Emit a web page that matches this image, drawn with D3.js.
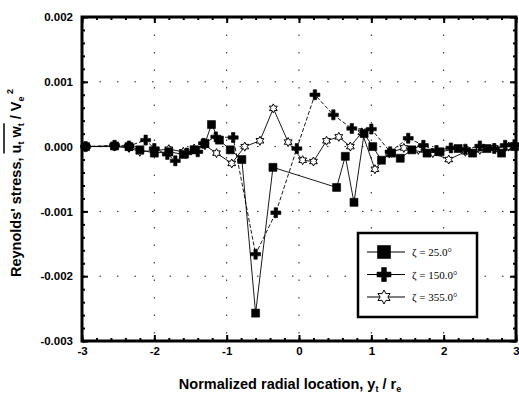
<!DOCTYPE html>
<html>
<head>
<meta charset="utf-8">
<script src="https://cdn.jsdelivr.net/npm/d3@7"></script>
<style>
  body { margin: 0; background: #fff; }
  svg { display: block; }
  .tick text { font-family: "Liberation Sans", Arial, sans-serif; font-weight: bold; font-size: 11.5px; fill: #000; }
</style>
</head>
<body>
<div id="chart"></div>
<script>
// tick labels
const xTicks = [-3, -2, -1, 0, 1, 2, 3]
const yTicks = [0.002, 0.001, 0, -0.001, -0.002, -0.003]
const yTickLabels = ['0.002', '0.001', '0.000', '-0.001', '-0.002', '-0.003']

// zeta = 25.0 deg (filled squares)
const x25 = [-2.95, -2.55, -2.35, -2.2, -2.0, -1.8, -1.6, -1.45, -1.3, -1.21, -1.1, -0.95, -0.79, -0.6, -0.36,
  0.52, 0.64, 0.76, 0.9, 1.02, 1.14, 1.28, 1.4, 1.56, 1.77, 1.95, 2.2, 2.4, 2.6, 2.8, 2.98]
const v25 = [0, 0.00001, 0, -0.00005, -0.0001, -0.00008, -0.00012, -0.00005, 0.00005, 0.00034, 0.0001, -0.00005, -0.0002, -0.00257, -0.00032,
  -0.00063, -0.00015, -0.00086, 0.0002, 0, -0.00021, -0.0001, -0.00018, -0.00005, -0.0001, -0.00008, -0.00003, -0.0001, -0.00003, -0.0001, 0]

// zeta = 150.0 deg (filled crosses)
const x150 = [-2.95, -2.55, -2.35, -2.12, -2.0, -1.82, -1.71, -1.55, -1.4, -1.32, -1.15, -0.91, -0.6, -0.32, -0.03,
  0.22, 0.475, 0.73, 1.0, 1.26, 1.51, 1.72, 1.9, 2.1, 2.3, 2.5, 2.7, 2.85, 2.98]
const v150 = [0, 0.00002, 0.00001, 0.0001, -0.00003, -0.00012, -0.00022, -0.0001, -0.00008, 0.00005, 0.00015, 0.00014, -0.00166, -0.00102, -0.00003,
  0.0008, 0.00049, 0.00028, 0.00027, -0.00008, 0.00013, 0.00002, -0.00006, -0.00002, -0.00004, 0.00001, -0.00003, 0.00002, 0.00003]

// zeta = 355.0 deg (open stars)
const x355 = [-2.95, -2.55, -2.35, -2.2, -2.0, -1.8, -1.6, -1.45, -1.3, -1.14, -0.93, -0.75, -0.54, -0.355, -0.15,
  0.05, 0.2, 0.38, 0.55, 0.71, 0.87, 1.05, 1.25, 1.45, 1.65, 1.85, 2.07, 2.3, 2.5, 2.7, 2.9]
const v355 = [0, 0, -0.00002, -0.00008, -0.00006, -0.00004, -0.00008, -0.00003, 0.00002, -0.0001, -0.00026, 0, 0.00009, 0.00059, 0.00007,
  -0.00021, -0.00023, 0.00009, 0.00015, 0, 0.00022, -0.00035, -0.0001, -0.00002, -0.00005, -0.0001, -0.0002, -0.00008, -0.00005, -0.00002, 0]

const seriesNames = ['\u03B6 = 25.0\u00B0', '\u03B6 = 150.0\u00B0', '\u03B6 = 355.0\u00B0']

const width = 519
const height = 402
const margin = { top: 17, right: 3, bottom: 61, left: 82 }

const x = d3.scaleLinear().domain([-3, 3]).range([margin.left, width - margin.right])
const y = d3.scaleLinear().domain([-0.003, 0.002]).range([height - margin.bottom, margin.top])

const series = [
  { name: seriesNames[2], xs: x355, vs: v355, marker: 'star', dash: null },
  { name: seriesNames[1], xs: x150, vs: v150, marker: 'cross', dash: '4,2' },
  { name: seriesNames[0], xs: x25, vs: v25, marker: 'square', dash: null },
]

// marker paths centred on 0,0
function markerPath(type, s) {
  if (type === 'square') {
    return `M${-s / 2},${-s / 2}h${s}v${s}h${-s}Z`
  }
  if (type === 'cross') {
    const a = s / 2, t = s * 0.17
    return `M${-t},${-a}H${t}V${-t}H${a}V${t}H${t}V${a}H${-t}V${t}H${-a}V${-t}H${-t}Z`
  }
  // six point star
  const pts = []
  for (let i = 0; i < 12; i++) {
    const r = i % 2 === 0 ? s / 2 : s / 3.6
    const ang = -Math.PI / 2 + i * Math.PI / 6
    pts.push([r * Math.cos(ang), r * Math.sin(ang)])
  }
  return 'M' + pts.map(p => p.join(',')).join('L') + 'Z'
}

function drawMarker(g, type, s) {
  g.append('path')
    .attr('d', markerPath(type, s))
    .attr('fill', type === 'star' ? '#fff' : '#000')
    .attr('stroke', '#000')
    .attr('stroke-width', type === 'star' ? 1 : 0.6)
}

const svg = d3.select('#chart').append('svg')
  .attr('width', width)
  .attr('height', height)

// dotted grid at major ticks
const grid = svg.append('g')
  .attr('stroke', '#222')
  .attr('stroke-width', 1)
  .attr('stroke-dasharray', '1.5,16')
grid.selectAll('.gx')
  .data(xTicks.slice(1, -1))
  .join('line')
  .attr('x1', d => x(d)).attr('x2', d => x(d))
  .attr('y1', margin.top).attr('y2', height - margin.bottom)
grid.selectAll('.gy')
  .data(yTicks.slice(1, -1))
  .join('line')
  .attr('x1', margin.left).attr('x2', width - margin.right)
  .attr('y1', d => y(d)).attr('y2', d => y(d))

// axes, ticks pointing inward on all sides
const xMinor = d3.range(-3, 3.001, 0.2)
const yMinor = d3.range(-0.003, 0.00201, 0.0002)

const axes = [
  { g: d3.axisBottom(x).tickValues(xTicks).tickSize(-6).tickPadding(6).tickFormat(d => d), tr: `translate(0,${height - margin.bottom})` },
  { g: d3.axisBottom(x).tickValues(xMinor).tickSize(-3).tickFormat(''), tr: `translate(0,${height - margin.bottom})` },
  { g: d3.axisTop(x).tickValues(xTicks).tickSize(-6).tickFormat(''), tr: `translate(0,${margin.top})` },
  { g: d3.axisTop(x).tickValues(xMinor).tickSize(-3).tickFormat(''), tr: `translate(0,${margin.top})` },
  { g: d3.axisLeft(y).tickValues(yTicks).tickSize(-6).tickPadding(9).tickFormat((d, i) => yTickLabels[i]), tr: `translate(${margin.left},0)` },
  { g: d3.axisLeft(y).tickValues(yMinor).tickSize(-3).tickFormat(''), tr: `translate(${margin.left},0)` },
  { g: d3.axisRight(y).tickValues(yTicks).tickSize(-6).tickFormat(''), tr: `translate(${width - margin.right},0)` },
  { g: d3.axisRight(y).tickValues(yMinor).tickSize(-3).tickFormat(''), tr: `translate(${width - margin.right},0)` },
]
axes.forEach(a => {
  svg.append('g')
    .attr('transform', a.tr)
    .call(a.g)
    .call(g => g.select('.domain').remove())
    .call(g => g.selectAll('.tick line').attr('stroke', '#000').attr('stroke-width', 2))
})

// x tick labels: use hyphen minus
svg.selectAll('.tick text').each(function() {
  const t = d3.select(this)
  t.text(t.text().replace('\u2212', '-'))
})

// frame
svg.append('rect')
  .attr('x', margin.left)
  .attr('y', margin.top)
  .attr('width', width - margin.left - margin.right)
  .attr('height', height - margin.top - margin.bottom)
  .attr('fill', 'none')
  .attr('stroke', '#000')
  .attr('stroke-width', 3)

// series
const line = d3.line().x(d => x(d[0])).y(d => y(d[1]))
series.forEach(s => {
  const pts = s.xs.map((d, i) => [d, s.vs[i]])
  svg.append('path')
    .datum(pts)
    .attr('d', line)
    .attr('fill', 'none')
    .attr('stroke', '#000')
    .attr('stroke-width', 0.9)
    .attr('stroke-dasharray', s.dash)
  const size = s.marker === 'square' ? 8 : s.marker === 'cross' ? 10 : 9
  svg.append('g')
    .selectAll('g')
    .data(pts)
    .join('g')
    .attr('transform', d => `translate(${x(d[0])},${y(d[1])})`)
    .each(function() { drawMarker(d3.select(this), s.marker, size) })
})

// legend
const legend = svg.append('g')
legend.append('rect')
  .attr('x', 358).attr('y', 233).attr('width', 119).attr('height', 84)
  .attr('fill', '#fff').attr('stroke', '#000').attr('stroke-width', 2.5)
const legendOrder = [series[2], series[1], series[0]]
legendOrder.forEach((s, i) => {
  const ly = 252 + i * 22.5
  legend.append('line')
    .attr('x1', 367).attr('x2', 405).attr('y1', ly).attr('y2', ly)
    .attr('stroke', '#000').attr('stroke-width', 1.2)
  const mg = legend.append('g').attr('transform', `translate(384,${ly})`)
  drawMarker(mg, s.marker, s.marker === 'square' ? 13 : 14)
  legend.append('text')
    .attr('x', 412).attr('y', ly + 4)
    .attr('font-family', '"Liberation Serif", "Times New Roman", serif')
    .attr('font-size', 11)
    .text(s.name)
})

// x axis title
const xt = svg.append('text')
  .attr('x', 290).attr('y', 389)
  .attr('text-anchor', 'middle')
  .attr('font-family', '"Liberation Sans", Arial, sans-serif')
  .attr('font-weight', 'bold')
  .attr('font-size', 14.5)
xt.append('tspan').text('Normalized radial location, y')
xt.append('tspan').attr('font-size', 9).attr('dy', 3).text('t')
xt.append('tspan').attr('dy', -3).text(' / r')
xt.append('tspan').attr('font-size', 9).attr('dy', 3).text('e')

// y axis title
const yg = svg.append('g').attr('transform', 'translate(21,183) rotate(-90)')
const yt = yg.append('text')
  .attr('x', 0).attr('y', 0)
  .attr('text-anchor', 'middle')
  .attr('font-family', '"Liberation Sans", Arial, sans-serif')
  .attr('font-weight', 'bold')
  .attr('font-size', 14.5)
yt.append('tspan').text('Reynolds\' stress, ')
const u1 = yt.append('tspan').text('u')
yt.append('tspan').attr('font-size', 9).attr('dy', 3).text('t')
yt.append('tspan').attr('dy', -3).text(' w')
const w2 = yt.append('tspan').attr('font-size', 9).attr('dy', 3).text('t')
yt.append('tspan').attr('dy', -3).text(' / V')
yt.append('tspan').attr('font-size', 9).attr('dy', 3).text('e')
yt.append('tspan').attr('font-size', 9).attr('dy', -11).text(' 2')

// overline above u_t w_t
const b1 = u1.node().getBBox()
const b2 = w2.node().getBBox()
yg.append('line')
  .attr('x1', b1.x).attr('x2', b2.x + b2.width)
  .attr('y1', b1.y - 4).attr('y2', b1.y - 4)
  .attr('stroke', '#000').attr('stroke-width', 1.5)
</script>
</body>
</html>
